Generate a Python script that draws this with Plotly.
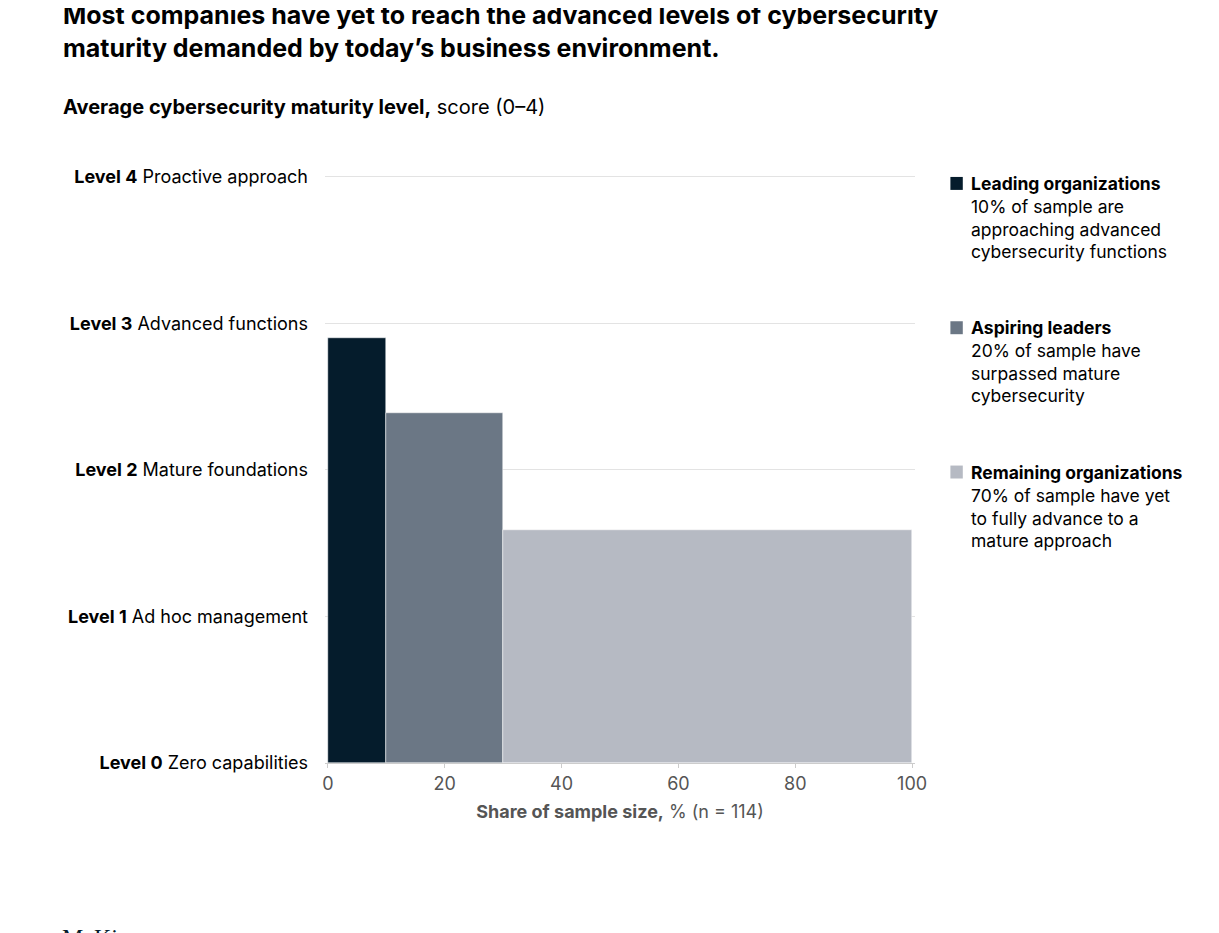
import plotly.graph_objects as go

groups = ["Leading organizations", "Aspiring leaders", "Remaining organizations"]
shares = [10, 20, 70]
scores = [2.90, 2.39, 1.59]
colors = ["#051c2c", "#6b7785", "#b6bac3"]
descs = ["10% of sample are<br>approaching advanced<br>cybersecurity functions",
         "20% of sample have<br>surpassed mature<br>cybersecurity",
         "70% of sample have yet<br>to fully advance to a<br>mature approach"]
level_vals = [0, 1, 2, 3, 4]
level_labels = ["<b>Level 0</b> Zero capabilities", "<b>Level 1</b> Ad hoc management",
                "<b>Level 2</b> Mature foundations", "<b>Level 3</b> Advanced functions",
                "<b>Level 4</b> Proactive approach"]

starts = [sum(shares[:i]) for i in range(len(shares))]
centers = [s + w / 2 for s, w in zip(starts, shares)]

fig = go.Figure()
fig.add_trace(go.Bar(x=centers, y=scores, width=shares, marker=dict(color=colors, line=dict(width=0.5, color="white")),
                     showlegend=False, hoverinfo="skip"))

F = "Inter, Liberation Sans, sans-serif"
fig.update_layout(
    width=1219, height=933, plot_bgcolor="white", paper_bgcolor="white",
    margin=dict(l=317, r=312, t=166, b=178),
    font=dict(family=F, color="#000"),
    bargap=0,
    xaxis=dict(range=[-0.5, 100.5], tickvals=[0, 20, 40, 60, 80, 100], showgrid=False, zeroline=False,
               showline=True, linecolor="#ccc", ticks="outside", ticklen=4, tickcolor="#ccc",
               tickfont=dict(size=18, color="#555"),
               title=dict(text="<b>Share of sample size,</b> % (n = 114)", font=dict(size=18, color="#555"), standoff=12)),
    yaxis=dict(range=[0, 4.02], tickvals=level_vals, ticktext=level_labels, showgrid=True, gridcolor="#e3e3e3",
               zeroline=False, tickfont=dict(size=18, color="#000"), ticks="", ticklabelstandoff=16),
)

fig.add_annotation(xref="paper", yref="paper", x=-0.447, y=1.185, xanchor="left", yanchor="bottom", align="left",
                   showarrow=False, text="<b>Most companies have yet to reach the advanced levels of cybersecurity<br>maturity demanded by today’s business environment.</b>",
                   font=dict(size=25, family=F))
fig.add_annotation(xref="paper", yref="paper", x=-0.447, y=1.09, xanchor="left", yanchor="bottom", showarrow=False,
                   text="<b>Average cybersecurity maturity level,</b> score (0–4)", font=dict(size=20, family=F))

ys = [1.0, 0.755, 0.51]
for g, d, c, y in zip(groups, descs, colors, ys):
    fig.add_shape(type="rect", xref="paper", yref="paper", x0=1.06, x1=1.081, y0=y - 0.027, y1=y - 0.005,
                  fillcolor=c, line=dict(width=0))
    fig.add_annotation(xref="paper", yref="paper", x=1.092, y=y + 0.005, xanchor="left", yanchor="top", align="left",
                       showarrow=False, text=f"<b>{g}</b><br>{d}", font=dict(size=17.5, family=F))

fig.add_annotation(xref="paper", yref="paper", x=-0.45, y=-0.27, xanchor="left", yanchor="top", align="left",
                   showarrow=False, text="McKinsey<br>&nbsp;&nbsp;&nbsp;&nbsp;& Company",
                   font=dict(size=24, family="Liberation Serif, DejaVu Serif, serif", color="#051c2c"))

fig.write_html("out.html")
